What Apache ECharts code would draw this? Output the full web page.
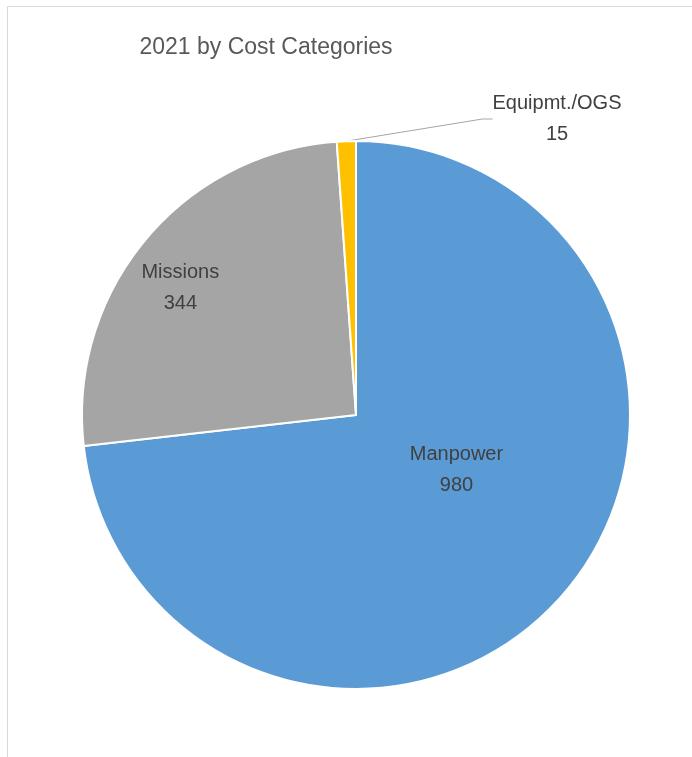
<!DOCTYPE html>
<html>
<head>
<meta charset="utf-8">
<script src="https://cdn.jsdelivr.net/npm/echarts@6/dist/echarts.min.js"></script>
<style>
html,body{margin:0;padding:0;background:#fff;}
#wrap{position:relative;width:692px;height:757px;overflow:hidden;}
#chart{position:absolute;left:0;top:0;width:692px;height:757px;}
#frame{position:absolute;left:7px;top:6px;width:700px;height:800px;border:1.5px solid #d9d9d9;box-sizing:border-box;pointer-events:none;}
</style>
</head>
<body>
<div id="wrap"><div id="chart"></div><div id="frame"></div></div>
<script>
const titleText = '2021 by Cost Categories';
const categories = ['Manpower', 'Missions', 'Equipmt./OGS'];
const values = [980, 344, 15];
const colors = ['#5B9BD5', '#A5A5A5', '#FFC000'];

const chart = echarts.init(document.getElementById('chart'), null, {renderer: 'canvas'});

const labelOffsets = [[-4, -38], [-68, -38], [0, 0]];
const data = categories.map((c, i) => {
  const item = {name: c, value: values[i], itemStyle: {color: colors[i]}};
  if (i < 2) {
    item.label = {position: 'inside', offset: labelOffsets[i]};
    item.labelLine = {show: false};
  } else {
    item.label = {position: 'outside'};
    item.labelLine = {show: true, length: 20, length2: 10, lineStyle: {color: '#a6a6a6', width: 1}};
  }
  return item;
});

chart.setOption({
  animation: false,
  backgroundColor: '#fff',
  title: {
    text: titleText,
    left: 266,
    top: 36,
    textAlign: 'center',
    padding: 0,
    textStyle: {fontFamily: 'Liberation Sans', fontSize: 23, fontWeight: 'normal', color: '#595959'}
  },
  series: [{
    type: 'pie',
    center: [356, 415],
    radius: [0, 274],
    startAngle: 90,
    clockwise: true,
    avoidLabelOverlap: false,
    itemStyle: {borderColor: '#ffffff', borderWidth: 2},
    label: {
      show: true,
      formatter: '{b}\n{c}',
      fontFamily: 'Liberation Sans',
      fontSize: 20,
      lineHeight: 31,
      color: '#404040',
      align: 'center'
    },
    emphasis: {disabled: true},
    labelLayout: function (params) {
      if (params.dataIndex === 2) {
        return {x: 557, y: 119, align: 'center', verticalAlign: 'middle'};
      }
      return {};
    },
    data: data
  }]
});
</script>
</body>
</html>
